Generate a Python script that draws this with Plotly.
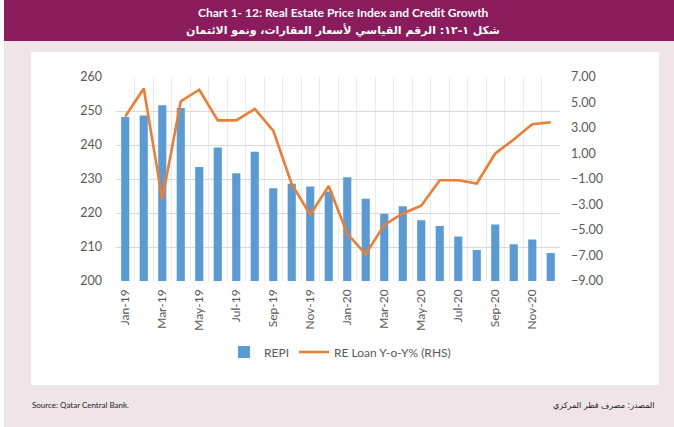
import plotly.graph_objects as go

W, H = 674, 427
months = ["Jan-19", "Feb-19", "Mar-19", "Apr-19", "May-19", "Jun-19", "Jul-19", "Aug-19",
          "Sep-19", "Oct-19", "Nov-19", "Dec-19", "Jan-20", "Feb-20", "Mar-20", "Apr-20",
          "May-20", "Jun-20", "Jul-20", "Aug-20", "Sep-20", "Oct-20", "Nov-20", "Dec-20"]
repi = [248.2, 248.7, 251.7, 250.9, 233.5, 239.3, 231.7, 238.0, 227.3, 228.6, 227.8, 226.3,
        230.5, 224.2, 219.8, 222.0, 217.9, 216.2, 213.1, 209.1, 216.6, 210.8, 212.2, 208.2]
re_loan = [3.9, 6.1, -2.6, 5.1, 6.0, 3.6, 3.6, 4.5, 2.8, -1.4, -3.8, -1.55,
           -5.3, -6.9, -4.6, -3.7, -3.1, -1.1, -1.1, -1.35, 1.0, 2.1, 3.3, 3.45]
left_ticks = [200, 210, 220, 230, 240, 250, 260]
right_ticks = [-9, -7, -5, -3, -1, 1, 3, 5, 7]

idx = list(range(len(months)))
tick_idx = idx[::2]
tick_txt = months[::2]

# plot area in pixels
L, R, T, B = 116, 560, 77, 281

def px(x):
    return (x - L) / (R - L)

def py(y):
    return (B - y) / (B - T)

fig = go.Figure()
fig.add_trace(go.Bar(x=idx, y=repi, name="REPI", marker_color="#5B9BD5",
                     marker_line_width=0, width=0.44))
fig.add_trace(go.Scatter(x=idx, y=re_loan, name="RE Loan Y-o-Y% (RHS)", yaxis="y2",
                         mode="lines", line=dict(color="#ED7D31", width=2.6)))

FONT = "Lato, Open Sans, sans-serif"
ytickfont = dict(family=FONT, size=12.5, color="#595959")
xtickfont = dict(family=FONT, size=12, color="#595959")
grid = "#D9D9D9"

fig.update_layout(
    width=W, height=H,
    margin=dict(l=L, r=W - R, t=T, b=H - B, pad=0),
    paper_bgcolor="#EFE4E8",
    plot_bgcolor="white",
    bargap=0.5,
    xaxis=dict(type="linear", range=[-0.5, 23.5], tickvals=tick_idx, ticktext=tick_txt,
               tickangle=-90, showgrid=False, zeroline=False, showline=False,
               tickfont=xtickfont, ticks="", ticklabelstandoff=5,
               minor=dict(tick0=0.5, dtick=1, showgrid=True, gridcolor="#EBEBEB",
                          gridwidth=1, ticks="")),
    yaxis=dict(range=[200, 260], tickvals=left_ticks, showgrid=True, gridcolor=grid,
               gridwidth=1, zeroline=False, showline=False, tickfont=ytickfont, ticks="",
               ticklabelstandoff=13),
    yaxis2=dict(range=[-9, 7], tickvals=right_ticks, tickformat=".2f", overlaying="y",
                side="right", showgrid=False, zeroline=False, showline=False,
                tickfont=ytickfont, ticks="", ticklabelstandoff=10),
    legend=dict(orientation="h", x=px(340), y=py(352), xanchor="center", yanchor="middle",
                font=dict(family=FONT, size=12, color="#595959"),
                bgcolor="rgba(0,0,0,0)", itemwidth=30),
    showlegend=True,
)

shapes = [
    dict(type="rect", xref="paper", yref="paper", x0=px(-5), x1=px(4), y0=py(-5), y1=py(H + 5),
         fillcolor="white", line_width=0, layer="below"),
    dict(type="rect", xref="paper", yref="paper", x0=px(4), x1=px(W + 5), y0=py(41), y1=py(-5),
         fillcolor="#8A1B5C", line_width=0, layer="below"),
    dict(type="rect", xref="paper", yref="paper", x0=px(31), x1=px(659), y0=py(385), y1=py(52),
         fillcolor="white", line_width=0, layer="below"),
]
fig.update_layout(shapes=shapes)

annos = [
    dict(text="<b>Chart 1- 12: Real Estate Price Index and Credit Growth</b>", x=px(343), y=py(12),
         font=dict(family=FONT, size=12, color="white")),
    dict(text="<b>شكل ١-١٢: الرقم القياسي لأسعار العقارات، ونمو الائتمان</b>", x=px(343), y=py(30),
         font=dict(family="DejaVu Sans, Noto Sans, sans-serif", size=11, color="white")),
    dict(text="Source: Qatar Central Bank.", x=px(30), y=py(405), xanchor="left",
         font=dict(family=FONT, size=8, color="#222222")),
    dict(text="المصدر: مصرف قطر المركزي", x=px(657), y=py(405), xanchor="right",
         font=dict(family="DejaVu Sans, sans-serif", size=8, color="#222222")),
]
for a in annos:
    a.update(xref="paper", yref="paper", showarrow=False, yanchor="middle")
    a.setdefault("xanchor", "center")
fig.update_layout(annotations=annos)

fig.write_html("out.html", config={"displayModeBar": False},
               post_script="document.body.style.margin='0px';")
